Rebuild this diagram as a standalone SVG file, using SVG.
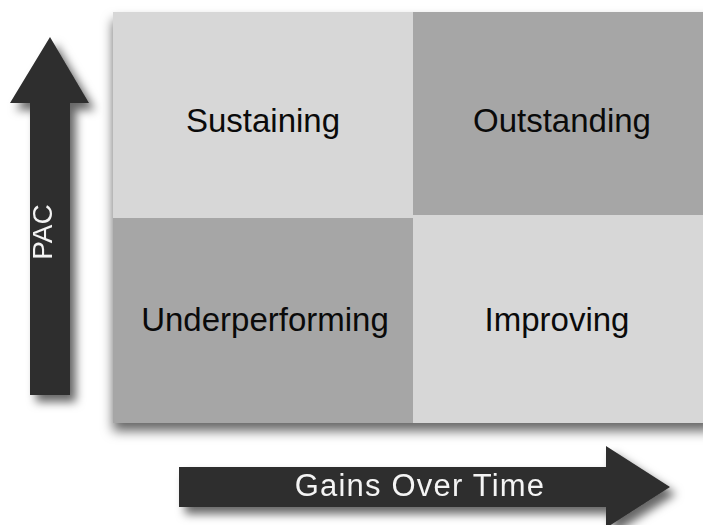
<svg xmlns="http://www.w3.org/2000/svg" width="703" height="525" viewBox="0 0 703 525">
  <defs>
    <filter id="gridShadow" x="-10%" y="-10%" width="130%" height="130%">
      <feDropShadow dx="0" dy="8" stdDeviation="6" flood-color="#000" flood-opacity="0.6"/>
    </filter>
    <filter id="arrowShadow" x="-30%" y="-30%" width="160%" height="160%">
      <feDropShadow dx="6" dy="7" stdDeviation="5" flood-color="#000" flood-opacity="0.6"/>
    </filter>
  </defs>
  <style>
    .light { fill: #d7d7d7; }
    .dark { fill: #a6a6a6; }
    .arrow { fill: #2f2f2f; }
    .cell-label { font-family: "Liberation Sans", Arial, sans-serif; font-size: 33px; fill: #0a0a0a; text-anchor: middle; }
    .axis-label { font-family: "Liberation Sans", Arial, sans-serif; fill: #f4f4f4; text-anchor: middle; }
  </style>

  <rect width="703" height="525" fill="#fff"/>

  <!-- 2x2 quadrant grid -->
  <g id="grid" filter="url(#gridShadow)">
    <rect x="113" y="12" width="600" height="411" class="light"/>
  </g>

  <g id="sustaining">
    <rect x="113" y="12" width="300" height="206" class="light"/>
    <text x="263" y="132" class="cell-label">Sustaining</text>
  </g>
  <g id="outstanding">
    <rect x="413" y="12" width="300" height="203" class="dark"/>
    <text x="562" y="132" class="cell-label">Outstanding</text>
  </g>
  <g id="underperforming">
    <rect x="113" y="218" width="300" height="205" class="dark"/>
    <text x="265" y="331" class="cell-label">Underperforming</text>
  </g>
  <g id="improving">
    <rect x="413" y="215" width="300" height="208" class="light"/>
    <text x="557" y="331" class="cell-label">Improving</text>
  </g>

  <!-- Axis arrows -->
  <g id="connectors">
    <g id="pac-axis" filter="url(#arrowShadow)">
      <polygon class="arrow" points="50,37 89,103 70,103 70,395 30,395 30,103 10,103"/>
      <text class="axis-label" font-size="28" transform="translate(52,232) rotate(-90)">PAC</text>
    </g>
    <g id="gains-axis" filter="url(#arrowShadow)">
      <polygon class="arrow" points="179,467 606,467 606,446 670,487 606,528 606,507 179,507"/>
      <text class="axis-label" x="420" y="496" font-size="31" letter-spacing="1.2">Gains Over Time</text>
    </g>
  </g>
</svg>
